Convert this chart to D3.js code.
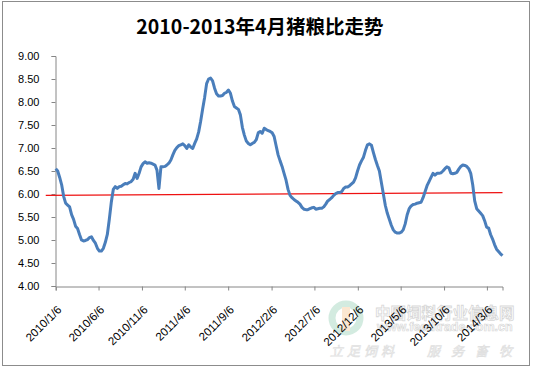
<!DOCTYPE html>
<html>
<head>
<meta charset="utf-8">
<script src="https://cdn.jsdelivr.net/npm/d3@7"></script>
<style>
  body { margin: 0; background: #fff; }
  text { font-family: "Liberation Sans", Arial, sans-serif; }
</style>
</head>
<body>
<div id="chart"></div>
<script>
// Weekly pig/grain price ratio, first week 2010/1/6
const startDate = "2010-01-06";
const ratio = [
  6.55, 6.50, 6.36, 6.20, 5.95, 5.80, 5.76, 5.72, 5.55, 5.45,
  5.30, 5.25, 5.12, 5.00, 4.98, 4.99, 5.01, 5.05, 5.07, 4.99,
  4.93, 4.82, 4.76, 4.76, 4.82, 4.95, 5.12, 5.45, 5.82, 6.10,
  6.16, 6.12, 6.16, 6.17, 6.20, 6.23, 6.22, 6.25, 6.27, 6.32,
  6.45, 6.34, 6.45, 6.59, 6.66, 6.70, 6.67, 6.68, 6.67, 6.65,
  6.63, 6.52, 6.12, 6.59, 6.59, 6.60, 6.63, 6.67, 6.74, 6.85,
  6.95, 7.01, 7.05, 7.07, 7.09, 7.05, 6.99, 7.07, 7.02, 6.99,
  7.10, 7.20, 7.35, 7.58, 7.85, 8.10, 8.40, 8.50, 8.52, 8.46,
  8.30, 8.18, 8.13, 8.13, 8.14, 8.19, 8.21, 8.26, 8.19, 8.02,
  7.90, 7.87, 7.84, 7.72, 7.45, 7.28, 7.15, 7.10, 7.07, 7.10,
  7.12, 7.18, 7.33, 7.36, 7.32, 7.43, 7.40, 7.38, 7.36, 7.33,
  7.25, 7.05, 6.85, 6.72, 6.60, 6.45, 6.30, 6.10, 5.97, 5.92,
  5.88, 5.85, 5.82, 5.78, 5.71, 5.67, 5.66, 5.66, 5.68, 5.70,
  5.71, 5.67, 5.68, 5.69, 5.69, 5.72, 5.78, 5.85, 5.88, 5.92,
  5.97, 6.01, 6.03, 6.03, 6.05, 6.12, 6.15, 6.15, 6.18, 6.22,
  6.26, 6.35, 6.50, 6.63, 6.72, 6.80, 6.95, 7.07, 7.09, 7.06,
  6.90, 6.75, 6.62, 6.50, 6.25, 6.00, 5.75, 5.58, 5.45, 5.32,
  5.22, 5.17, 5.15, 5.15, 5.17, 5.22, 5.35, 5.55, 5.68, 5.74,
  5.77, 5.78, 5.80, 5.81, 5.82, 5.92, 6.05, 6.18, 6.27, 6.36,
  6.45, 6.41, 6.45, 6.45, 6.46, 6.50, 6.55, 6.59, 6.57, 6.45,
  6.44, 6.45, 6.47, 6.54, 6.60, 6.63, 6.62, 6.60, 6.55, 6.45,
  6.20, 5.85, 5.68, 5.63, 5.58, 5.53, 5.42, 5.28, 5.26, 5.12,
  5.02, 4.90, 4.80, 4.75, 4.70, 4.66
];
// linear trend line (week offset, value) at its two ends
const trendWeeks = [-5, 225];
const trendValues = [5.97, 6.03];

const xTickLabels = ["2010/1/6", "2010/6/6", "2010/11/6", "2011/4/6", "2011/9/6",
  "2012/2/6", "2012/7/6", "2012/12/6", "2013/5/6", "2013/10/6", "2014/3/6"];
const yTicks = [4.0, 4.5, 5.0, 5.5, 6.0, 6.5, 7.0, 7.5, 8.0, 8.5, 9.0];
const title = "2010-2013年4月猪粮比走势";

const parseSlash = d3.timeParse("%Y/%m/%d");
const start = d3.timeParse("%Y-%m-%d")(startDate);
const data = ratio.map((v, i) => ({ date: d3.timeWeek.offset(start, i), value: v }));

const W = 533, H = 370;
const svg = d3.select("#chart").append("svg")
    .attr("width", W)
    .attr("height", H);

// outer frame
svg.append("rect")
    .attr("x", 2.5).attr("y", 1.5)
    .attr("width", 527).attr("height", 364)
    .attr("fill", "#fff")
    .attr("stroke", "#8c8c8c")
    .attr("stroke-width", 1);

// title
svg.append("text")
    .attr("x", 260).attr("y", 34)
    .attr("text-anchor", "middle")
    .style("font-family", "'Noto Sans CJK SC', sans-serif")
    .style("font-weight", "bold")
    .style("font-size", "19.5px")
    .attr("fill", "#000")
    .text(title);

const x = d3.scaleTime()
    .domain(d3.extent(data, d => d.date))
    .range([55.7, 502.5]);
const y = d3.scaleLinear()
    .domain([4, 9])
    .range([286, 56]);

// watermark
const wm = svg.append("g").attr("opacity", 0.3);
wm.append("circle").attr("cx", 346).attr("cy", 318).attr("r", 14)
    .attr("fill", "none").attr("stroke", "#6fbf9a").attr("stroke-width", 7);
wm.append("rect").attr("x", 342).attr("y", 307).attr("width", 8).attr("height", 24)
    .attr("fill", "#f3b36b");
wm.append("text").attr("x", 375).attr("y", 319)
    .style("font-family", "'Noto Sans CJK SC', sans-serif")
    .style("font-size", "15.5px").style("font-weight", "bold")
    .attr("fill", "none").attr("stroke", "#7a7a7a").attr("stroke-width", 0.8)
    .text("中国饲料行业信息网");
wm.append("text").attr("x", 377).attr("y", 331)
    .style("font-size", "12.5px").style("font-weight", "bold")
    .attr("fill", "none").attr("stroke", "#7a7a7a").attr("stroke-width", 0.7)
    .text("www.feedtrade.com.cn");
wm.append("text").attr("x", 330).attr("y", 356)
    .style("font-family", "'Noto Sans CJK SC', sans-serif")
    .style("font-size", "13px").style("font-style", "italic")
    .attr("fill", "none").attr("stroke", "#9a9a9a").attr("stroke-width", 0.7)
    .attr("letter-spacing", "4px")
    .text("立足饲料");
wm.append("text").attr("x", 427).attr("y", 356)
    .style("font-family", "'Noto Sans CJK SC', sans-serif")
    .style("font-size", "13px").style("font-style", "italic")
    .attr("fill", "none").attr("stroke", "#9a9a9a").attr("stroke-width", 0.7)
    .attr("letter-spacing", "11px")
    .text("服务畜牧");

// Y axis
const yAxis = svg.append("g")
    .attr("transform", "translate(55.5,0)")
    .call(d3.axisLeft(y).tickValues(yTicks).tickSize(4).tickPadding(12)
        .tickFormat(d3.format(".2f")));
yAxis.select(".domain").attr("stroke", "#868686");
yAxis.selectAll(".tick line").attr("stroke", "#868686");
yAxis.selectAll(".tick text")
    .style("font-size", "11px")
    .attr("fill", "#000");

// X axis
const xAxis = svg.append("g")
    .attr("transform", "translate(0,286.5)")
    .call(d3.axisBottom(x).tickValues(xTickLabels.map(parseSlash)).tickSize(4)
        .tickFormat((d, i) => xTickLabels[i]));
xAxis.select(".domain").attr("stroke", "#868686");
xAxis.selectAll(".tick line").attr("stroke", "#868686");
xAxis.selectAll(".tick text")
    .style("font-size", "11.5px")
    .attr("fill", "#000")
    .attr("text-anchor", "end")
    .attr("dy", null)
    .attr("y", 0)
    .attr("transform", "translate(6,24) rotate(-45)");

// trend line
svg.append("line")
    .attr("x1", x(d3.timeWeek.offset(start, trendWeeks[0])))
    .attr("y1", y(trendValues[0]))
    .attr("x2", x(d3.timeWeek.offset(start, trendWeeks[1])))
    .attr("y2", y(trendValues[1]))
    .attr("stroke", "#ee1111")
    .attr("stroke-width", 1.3);

// ratio line
svg.append("path")
    .datum(data)
    .attr("fill", "none")
    .attr("stroke", "#4a7ebb")
    .attr("stroke-width", 3)
    .attr("stroke-linejoin", "round")
    .attr("d", d3.line()
        .x(d => x(d.date))
        .y(d => y(d.value)));
</script>
</body>
</html>
